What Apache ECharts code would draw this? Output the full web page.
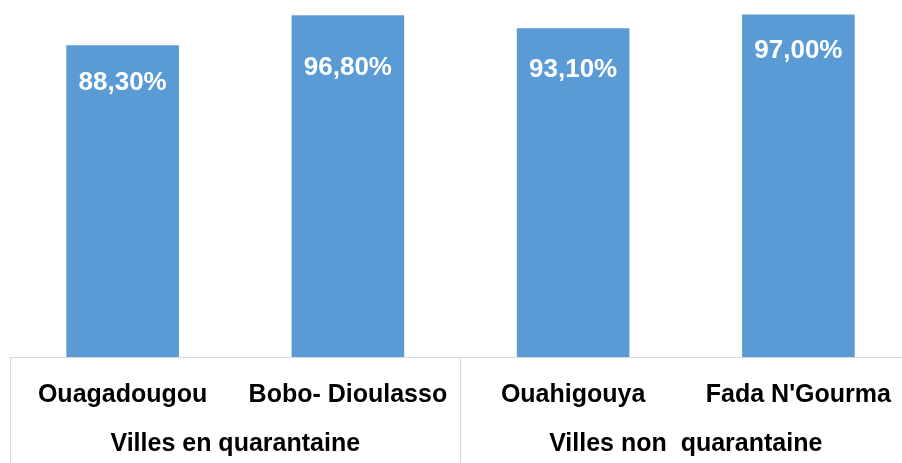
<!DOCTYPE html>
<html>
<head>
<meta charset="utf-8">
<script src="https://cdn.jsdelivr.net/npm/echarts@6/dist/echarts.min.js"></script>
<style>
  html, body { margin: 0; padding: 0; background: #fff; }
  #chart { width: 902px; height: 463px; }
</style>
</head>
<body>
<div id="chart"></div>
<script>
    'use strict';

    // data
    var cities = ['Ouagadougou', 'Bobo- Dioulasso', 'Ouahigouya', "Fada N'Gourma"];
    var groups = ['Villes en quarantaine', 'Villes non  quarantaine'];
    var shares = [88.3, 96.8, 93.1, 97.0];

    // layout: how far each value label sits below its bar top
    var labelDrop = [25, 40, 28, 23];

    var chart = echarts.init(document.getElementById('chart'));

    var fmt = function(v) {
        return v.toFixed(2).replace('.', ',') + '%';
    };

    chart.setOption({
        animation: false,
        grid: {
            left: 10, width: 901, top: 4, bottom: 106,
            containLabel: false,
            outerBoundsMode: 'none'
        },
        xAxis: [{
            type: 'category',
            data: cities,
            axisLine: { show: false },
            axisTick: { show: false },
            axisLabel: {
                interval: 0,
                margin: 26,
                color: '#000',
                fontSize: 25,
                fontWeight: 'bold',
                fontFamily: "'Liberation Sans', Arial, sans-serif"
            }
        }, {
            type: 'category',
            data: groups,
            position: 'bottom',
            axisLine: { show: true, lineStyle: { color: '#d9d9d9', width: 1 } },
            axisTick: { show: true, length: 110, lineStyle: { color: '#d9d9d9', width: 1 } },
            axisLabel: {
                interval: 0,
                margin: 75,
                color: '#000',
                fontSize: 25,
                fontWeight: 'bold',
                fontFamily: "'Liberation Sans', Arial, sans-serif"
            }
        }],
        yAxis: {
            type: 'value',
            min: 0,
            max: 100,
            show: false,
            splitLine: { show: false }
        },
        series: [{
            type: 'bar',
            xAxisIndex: 0,
            barWidth: '50%',
            itemStyle: { color: '#5b9bd5' },
            data: shares.map(function(v, i) {
                return {
                    value: v,
                    label: { distance: labelDrop[i] }
                };
            }),
            label: {
                show: true,
                position: 'insideTop',
                color: '#fff',
                fontSize: 26,
                fontWeight: 'bold',
                fontFamily: "'Liberation Sans', Arial, sans-serif",
                formatter: function(p) { return fmt(p.value); }
            }
        }]
    });
</script>
</body>
</html>
